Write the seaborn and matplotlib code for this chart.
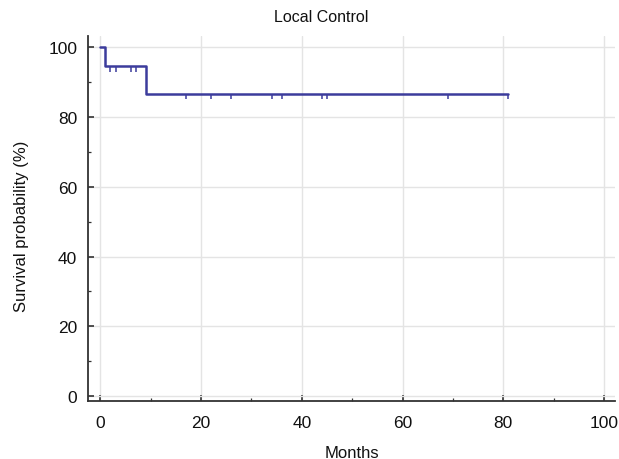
import numpy as np
import pandas as pd
import matplotlib
matplotlib.use("Agg")
import matplotlib.pyplot as plt
import seaborn as sns
from matplotlib.ticker import MultipleLocator

# Kaplan-Meier step data
step_months = [0, 1, 9, 81]
step_survival = [100, 94.5, 86.6, 86.6]
censor_months = [2, 3, 6, 7, 17, 22, 26, 34, 36, 44, 45, 69, 81]

x_ticks = [0, 20, 40, 60, 80, 100]
y_ticks = [0, 20, 40, 60, 80, 100]

sns.set_theme(style="white")
plt.rcParams['font.family'] = ['Liberation Sans', 'DejaVu Sans']

fig = plt.figure(figsize=(6.19, 4.60), dpi=100)
ax = fig.add_axes([0.1427, 0.126, 0.8508, 0.7936])

line_color = '#3c3c9c'
df = pd.DataFrame({"Months": step_months, "Survival": step_survival})
sns.lineplot(data=df, x="Months", y="Survival", drawstyle="steps-post",
             color=line_color, linewidth=1.8, ax=ax, zorder=3)

def surv_at(t):
    idx = np.searchsorted(step_months, t, side="right") - 1
    return step_survival[idx]

cy = [surv_at(t) for t in censor_months]
ax.vlines(censor_months, [v - 1.5 for v in cy], cy, color=line_color,
          linewidth=1.1, zorder=3)

ax.set_xlim(-2.4, 102.2)
ax.set_ylim(-1.4, 103.2)
ax.set_xticks(x_ticks)
ax.set_yticks(y_ticks)
ax.xaxis.set_minor_locator(MultipleLocator(10))
ax.yaxis.set_minor_locator(MultipleLocator(10))
ax.grid(True, which='major', color='#e4e4e4', linewidth=1.0, zorder=0)
ax.set_axisbelow(True)

for s in ['top', 'right']:
    ax.spines[s].set_visible(False)
for s in ['left', 'bottom']:
    ax.spines[s].set_color('#333333')
    ax.spines[s].set_linewidth(1.3)

ax.tick_params(which='major', direction='in', length=4, width=1.2,
               color='#333333', labelsize=12.5, labelcolor='#111111',
               left=True, bottom=True)
ax.tick_params(axis='x', which='major', pad=10)
ax.tick_params(axis='y', which='major', pad=8)
ax.tick_params(which='minor', direction='in', length=2.5, width=0.9,
               color='#333333', left=True, bottom=True)

ax.set_xlabel("Months", fontsize=12, color='#111111', labelpad=11)
ax.set_ylabel("Survival probability (%)", fontsize=12, color='#111111', labelpad=14)
ax.yaxis.label.set_y(0.482)
fig.text(321 / 619, 1 - 18 / 460, "Local Control", fontsize=11.5,
         color='#111111', ha='center', va='center')

fig.savefig("out.png", dpi=100)
